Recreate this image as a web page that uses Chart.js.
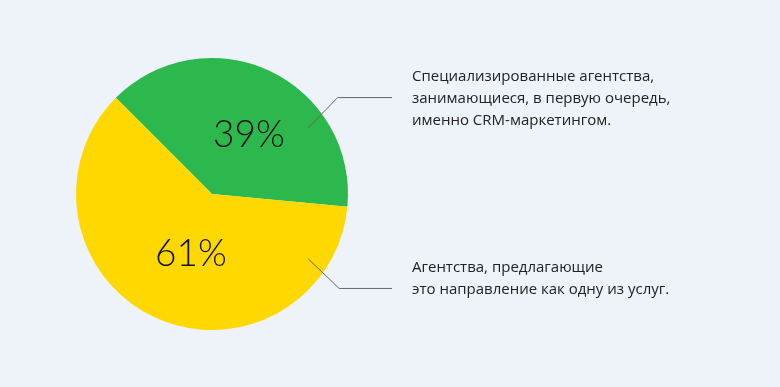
<!DOCTYPE html>
<html>
<head>
<meta charset="utf-8">
<script src="https://cdn.jsdelivr.net/npm/chart.js@4"></script>
<style>
  html, body { margin: 0; padding: 0; background: #eef2f9; }
  #wrap { width: 780px; height: 387px; }
</style>
</head>
<body>
<div id="wrap"><canvas id="myChart" width="780" height="387"></canvas></div>
<script>
const categories = [
    ["Специализированные агентства,", "занимающиеся, в первую очередь,", "именно CRM-маркетингом."],
    ["Агентства, предлагающие", "это направление как одну из услуг."]
]
const shares = [39, 61]
const colors = ["#2db84d", "#ffd800"]

// percent labels inside slices + callout lines with captions on the right
const calloutPlugin = {
    id: 'callouts',
    afterDraw(chart) {
        const ctx = chart.ctx
        const arcs = chart.getDatasetMeta(0).data
        const opts = chart.options.plugins.callouts
        arcs.forEach((arc, i) => {
            const cx = arc.x, cy = arc.y, R = arc.outerRadius
            // percent text
            const mid = (arc.startAngle + arc.endAngle) / 2 + opts.labelShift[i] * Math.PI / 180
            const lr = R * opts.labelRadius[i]
            ctx.save()
            ctx.fillStyle = '#111'
            ctx.font = '300 37px Lato, "Open Sans", sans-serif'
            ctx.textAlign = 'center'
            ctx.textBaseline = 'middle'
            ctx.fillText(shares[i] + '%', cx + lr * Math.cos(mid), cy + lr * Math.sin(mid))

            // callout line
            const a = (opts.lineAngle[i] - 90) * Math.PI / 180
            const x1 = cx + R * 0.855 * Math.cos(a), y1 = cy + R * 0.855 * Math.sin(a)
            const x2 = cx + R * 1.165 * Math.cos(a + opts.elbowShift[i] * Math.PI / 180)
            const y2 = cy + R * 1.165 * Math.sin(a + opts.elbowShift[i] * Math.PI / 180)
            const x3 = cx + 180
            ctx.strokeStyle = '#666'
            ctx.lineWidth = 1
            ctx.beginPath()
            ctx.moveTo(x1, y1)
            ctx.lineTo(x2, y2)
            ctx.lineTo(x3, y2)
            ctx.stroke()

            // caption
            const lines = categories[i]
            ctx.fillStyle = '#222'
            ctx.font = '15px "Open Sans", sans-serif'
            ctx.textAlign = 'left'
            ctx.textBaseline = 'middle'
            const lh = 22
            const top = y2 - (lines.length === 3 ? lh : lh / 2) - (lines.length === 3 ? 0 : 0)
            lines.forEach((t, k) => {
                ctx.fillText(t, cx + 200, top + k * lh + opts.captionShift[i])
            })
            ctx.restore()
        })
    }
}

new Chart(document.getElementById('myChart'), {
    type: 'pie',
    data: {
        labels: categories.map(c => c.join(' ')),
        datasets: [{
            data: shares,
            backgroundColor: colors,
            borderWidth: 0
        }]
    },
    options: {
        responsive: false,
        animation: false,
        rotation: -45,
        layout: { padding: { left: 76, right: 432, top: 58, bottom: 57 } },
        plugins: {
            legend: { display: false },
            tooltip: { enabled: false },
            callouts: {
                labelShift: [7, -6],
                labelRadius: [0.51, 0.47],
                lineAngle: [55.5, 124],
                elbowShift: [-3, 2.6],
                captionShift: [1, -10]
            }
        }
    },
    plugins: [calloutPlugin]
});
</script>
</body>
</html>
